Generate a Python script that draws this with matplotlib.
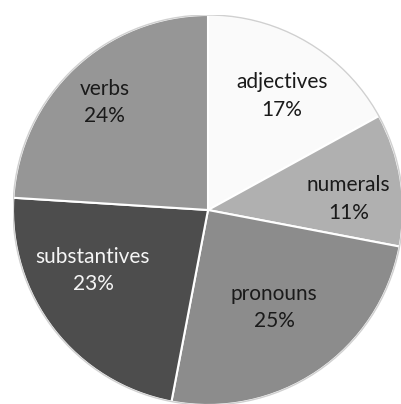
import matplotlib.pyplot as plt

# parts of speech share (%)
labels = ['adjectives', 'numerals', 'pronouns', 'substantives', 'verbs']
shares = [17, 11, 25, 23, 24]
colors = ['#fafafa', '#b0b0b0', '#8c8c8c', '#4d4d4d', '#969696']
text_colors = ['#1a1a1a', '#1a1a1a', '#1a1a1a', '#f5f5f5', '#1a1a1a']

# label positions (pie units, centre 0, radius 1)
label_pos = [(0.38, 0.585), (0.72, 0.056), (0.34, -0.50), (-0.59, -0.31), (-0.53, 0.55)]

fig = plt.figure(figsize=(4.02, 4.04), dpi=100)
ax = fig.add_axes([13 / 402, -1 / 404, 390 / 402, 390 / 404])

wedges, _ = ax.pie(shares, colors=colors, startangle=90, counterclock=False,
                   wedgeprops=dict(edgecolor='white', linewidth=1.5))
ax.set_xlim(-1, 1)
ax.set_ylim(-1, 1)
ax.axis('off')

# faint outer rim
rim = plt.Circle((0, 0), 1.0, fill=False, edgecolor='#d0d0d0', linewidth=1.0)
ax.add_patch(rim)

for (x, y), name, val, tc in zip(label_pos, labels, shares, text_colors):
    ax.text(x, y, f'{name}\n{val}%', ha='center', va='center', fontsize=15,
            family='Lato', color=tc, linespacing=1.45)

fig.savefig('out.png', dpi=100, facecolor='white')
